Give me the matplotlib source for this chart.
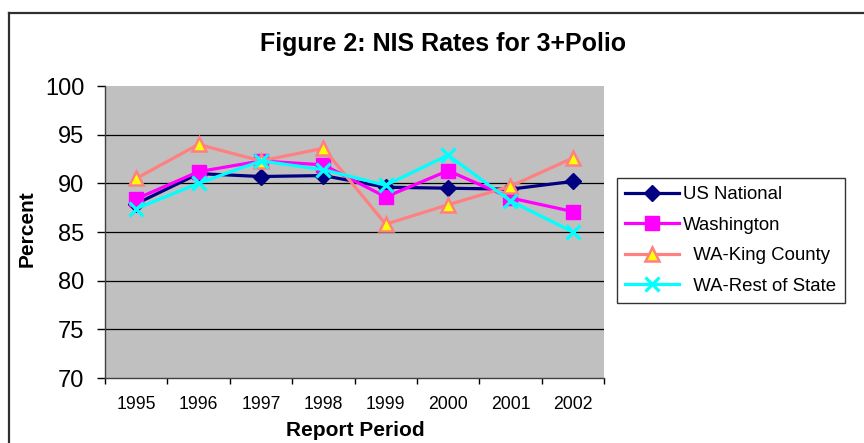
import matplotlib
matplotlib.use("Agg")
import matplotlib.pyplot as plt
from matplotlib.lines import Line2D
import numpy as np

plt.rcParams['font.family'] = ['Liberation Sans', 'DejaVu Sans']

years = ["1995", "1996", "1997", "1998", "1999", "2000", "2001", "2002"]
us_national = [87.9, 91.0, 90.7, 90.8, 89.6, 89.5, 89.4, 90.2]
washington = [88.4, 91.2, 92.3, 91.9, 88.6, 91.3, 88.5, 87.1]
king_county = [90.5, 94.0, 92.3, 93.6, 85.8, 87.8, 89.7, 92.6]
rest_of_state = [87.4, 90.0, 92.3, 91.4, 89.8, 92.9, 88.2, 85.0]
labels = ["US National", "Washington", "  WA-King County", "  WA-Rest of State"]
yticks = [70, 75, 80, 85, 90, 95, 100]

W, H = 864, 443
fig = plt.figure(figsize=(W / 100, H / 100), dpi=100)
ax = fig.add_axes([105 / W, 1 - 378 / H, (604 - 105) / W, (378 - 86) / H])
ax.set_facecolor('#C0C0C0')

x = np.arange(len(years))
for v in yticks[1:-1]:
    ax.axhline(v, color='black', lw=0.9, zorder=1)

ax.plot(x, us_national, color='#000080', lw=2.3, marker='D', ms=8.5,
        mfc='#000080', mec='#000080', label=labels[0], zorder=3)
ax.plot(x, washington, color='#FF00FF', lw=2.3, marker='s', ms=9.5,
        mfc='#FF00FF', mec='#FF00FF', label=labels[1], zorder=4)
ax.plot(x, king_county, color='#FF8080', lw=2.3, marker='^', ms=10,
        mfc='#FFFF00', mec='#FF8080', mew=1.8, label=labels[2], zorder=5)
ax.plot(x, rest_of_state, color='#00FFFF', lw=2.3, marker='x', ms=10,
        mec='#00FFFF', mew=2.3, label=labels[3], zorder=6)

ax.set_xlim(-0.5, len(years) - 0.5)
ax.set_ylim(70, 100)
ax.set_yticks(yticks)
ax.set_yticklabels([str(v) for v in yticks], fontsize=17)
ax.tick_params(axis='y', direction='out', length=6, width=1, pad=9)
ax.set_xticks(x)
ax.set_xticklabels(years, fontsize=12.7)
ax.set_xticks(np.arange(len(years) + 1) - 0.5, minor=True)
ax.tick_params(axis='x', which='major', length=0, pad=13)
ax.tick_params(axis='x', which='minor', direction='out', length=4, width=1)

for s in ['top', 'right']:
    ax.spines[s].set_visible(False)
for s in ['left', 'bottom']:
    ax.spines[s].set_color('#404040')
    ax.spines[s].set_linewidth(1)

fig.text(443 / W, 1 - 44 / H, "Figure 2: NIS Rates for 3+Polio", ha='center', va='center',
         fontsize=18, fontweight='bold')
fig.text(27 / W, 1 - 229 / H, "Percent", rotation=90, ha='center', va='center',
         fontsize=15, fontweight='bold')
fig.text(355 / W, 1 - 430 / H, "Report Period", ha='center', va='center',
         fontsize=15, fontweight='bold')

leg = fig.legend(loc='upper left', bbox_to_anchor=(617 / W, 1 - 178 / H),
                 fontsize=13.4, frameon=True, fancybox=False, edgecolor='black',
                 handlelength=2.9, handletextpad=0.2, labelspacing=0.72,
                 borderpad=0.45, borderaxespad=0)
leg.get_frame().set_linewidth(1)

fig.add_artist(Line2D([9 / W, 1], [1 - 13 / H, 1 - 13 / H], transform=fig.transFigure,
                      color='#303030', lw=1.6))
fig.add_artist(Line2D([9 / W, 9 / W], [0, 1 - 13 / H], transform=fig.transFigure,
                      color='#303030', lw=1.6))

fig.savefig('out.png', dpi=100)
